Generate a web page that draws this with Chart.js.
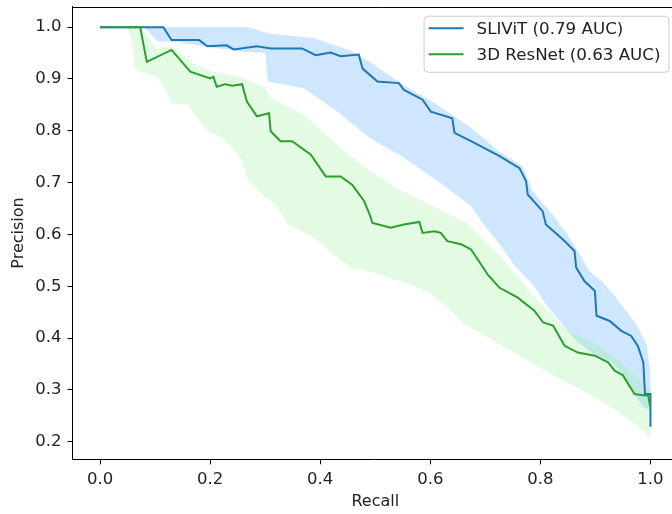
<!DOCTYPE html>
<html><head><meta charset="utf-8">
<script src="https://cdn.jsdelivr.net/npm/chart.js@4"></script>
<style>html,body{margin:0;padding:0;overflow:hidden;background:#fff}#wrap{width:690px;height:514px;position:relative}</style>
</head><body><div id="wrap"><canvas id="c" width="690" height="514"></canvas></div>
<script>
// ---- data ----
const seriesLabels = ['SLIViT (0.79 AUC)', '3D ResNet (0.63 AUC)'];
const xTicks = [0.0, 0.2, 0.4, 0.6, 0.8, 1.0];
const yTicks = [0.2, 0.3, 0.4, 0.5, 0.6, 0.7, 0.8, 0.9, 1.0];

const slivitRecall = [0, 0.115, 0.13, 0.18, 0.195, 0.23, 0.243, 0.285, 0.31, 0.367, 0.392, 0.419, 0.437, 0.47, 0.477, 0.504, 0.543, 0.552, 0.586, 0.601, 0.64, 0.644, 0.674, 0.726, 0.762, 0.774, 0.777, 0.804, 0.81, 0.841, 0.862, 0.865, 0.88, 0.899, 0.902, 0.926, 0.947, 0.965, 0.977, 0.987, 0.99, 1.0, 1.0];
const slivitPrecision = [1.0, 1.0, 0.975, 0.975, 0.963, 0.965, 0.957, 0.963, 0.959, 0.959, 0.946, 0.951, 0.944, 0.947, 0.92, 0.895, 0.892, 0.879, 0.86, 0.837, 0.824, 0.796, 0.78, 0.751, 0.728, 0.703, 0.677, 0.645, 0.619, 0.59, 0.568, 0.536, 0.51, 0.491, 0.443, 0.433, 0.414, 0.404, 0.385, 0.353, 0.292, 0.292, 0.229];

const slivitUpperRecall = [0.08, 0.27, 0.306, 0.388, 0.46, 0.49, 0.552, 0.613, 0.674, 0.725, 0.768, 0.786, 0.817, 0.847, 0.871, 0.889, 0.914, 0.932, 0.956, 0.974, 0.993, 1.0];
const slivitUpperPrecision = [1.0, 1.0, 0.988, 0.979, 0.953, 0.933, 0.888, 0.85, 0.806, 0.76, 0.731, 0.683, 0.645, 0.603, 0.562, 0.529, 0.507, 0.485, 0.452, 0.427, 0.388, 0.331];
const slivitLowerRecall = [0.08, 0.106, 0.137, 0.21, 0.258, 0.3, 0.305, 0.37, 0.431, 0.49, 0.552, 0.613, 0.674, 0.695, 0.726, 0.756, 0.786, 0.81, 0.835, 0.865, 0.896, 0.926, 0.956, 0.974, 0.987, 1.0];
const slivitLowerPrecision = [1.0, 0.972, 0.972, 0.96, 0.953, 0.95, 0.895, 0.882, 0.837, 0.786, 0.748, 0.703, 0.655, 0.622, 0.581, 0.536, 0.504, 0.465, 0.433, 0.395, 0.369, 0.356, 0.324, 0.286, 0.267, 0.26];

const resnetRecall = [0, 0.073, 0.085, 0.13, 0.164, 0.2, 0.206, 0.212, 0.228, 0.24, 0.258, 0.267, 0.285, 0.307, 0.31, 0.328, 0.349, 0.383, 0.41, 0.437, 0.458, 0.48, 0.49, 0.495, 0.528, 0.552, 0.58, 0.586, 0.607, 0.619, 0.631, 0.656, 0.674, 0.686, 0.704, 0.726, 0.759, 0.789, 0.805, 0.823, 0.844, 0.868, 0.899, 0.923, 0.935, 0.95, 0.971, 0.99, 0.996, 0.999, 1.0];
const resnetPrecision = [1.0, 1.0, 0.933, 0.956, 0.914, 0.901, 0.904, 0.885, 0.89, 0.887, 0.89, 0.856, 0.828, 0.834, 0.799, 0.78, 0.78, 0.754, 0.712, 0.712, 0.696, 0.664, 0.638, 0.622, 0.613, 0.619, 0.624, 0.603, 0.606, 0.603, 0.587, 0.581, 0.571, 0.552, 0.523, 0.497, 0.478, 0.453, 0.43, 0.424, 0.385, 0.372, 0.366, 0.353, 0.337, 0.328, 0.292, 0.289, 0.289, 0.27, 0.27];

const resnetUpperRecall = [0.05, 0.075, 0.1, 0.13, 0.17, 0.2, 0.25, 0.3, 0.31, 0.37, 0.43, 0.49, 0.55, 0.61, 0.67, 0.73, 0.79, 0.85, 0.9, 0.95, 1.0];
const resnetUpperPrecision = [1.0, 1.0, 0.96, 0.962, 0.93, 0.915, 0.905, 0.885, 0.863, 0.831, 0.773, 0.722, 0.683, 0.651, 0.619, 0.555, 0.478, 0.414, 0.39, 0.35, 0.3];
const resnetLowerRecall = [0.05, 0.055, 0.064, 0.073, 0.103, 0.118, 0.13, 0.161, 0.173, 0.197, 0.222, 0.246, 0.258, 0.27, 0.295, 0.319, 0.34, 0.389, 0.431, 0.455, 0.49, 0.522, 0.565, 0.601, 0.631, 0.662, 0.695, 0.756, 0.817, 0.877, 0.938, 0.987, 1.0];
const resnetLowerPrecision = [1.0, 0.985, 0.921, 0.914, 0.904, 0.882, 0.853, 0.85, 0.828, 0.799, 0.786, 0.76, 0.741, 0.703, 0.677, 0.658, 0.619, 0.594, 0.555, 0.536, 0.529, 0.517, 0.504, 0.485, 0.459, 0.427, 0.408, 0.369, 0.331, 0.299, 0.26, 0.222, 0.209];

// ---- styling ----
const blueLine = '#1f77b4';
const greenLine = '#2ca02c';
const blueBand = 'rgba(30,144,255,0.22)';
const greenBand = 'rgba(144,238,144,0.25)';
const FONT = "'DejaVu Sans', sans-serif";

const pts = (xs, ys) => xs.map((x, i) => ({x, y: ys[i]}));
const band = (ux, uy, lx, ly) => pts(ux, uy).concat(pts(lx, ly).reverse());

Chart.defaults.font.family = FONT;
Chart.defaults.font.size = 16;
Chart.defaults.color = '#222';

const framePlugin = {
  id: 'frame',
  afterDraw(chart) {
    const {ctx, chartArea} = chart;
    ctx.save();
    ctx.strokeStyle = '#000';
    ctx.lineWidth = 1;
    ctx.beginPath();
    const y = Math.round(chartArea.top) + 0.5;
    ctx.moveTo(chartArea.left, y);
    ctx.lineTo(chartArea.right + 20, y);
    ctx.stroke();
    ctx.restore();
  }
};

const legendPlugin = {
  id: 'mplLegend',
  afterDraw(chart) {
    const {ctx, chartArea} = chart;
    const items = [
      {label: chart.data.datasets[2].label, color: chart.data.datasets[2].borderColor},
      {label: chart.data.datasets[3].label, color: chart.data.datasets[3].borderColor}
    ];
    ctx.save();
    ctx.font = '16.7px ' + FONT;
    const tw = Math.max(...items.map(it => ctx.measureText(it.label).width));
    const w = 5 + 35 + 13 + tw + 8;
    const h = 56;
    const right = chartArea.right - 9.5;
    const left = right - w;
    const top = chartArea.top + 9;
    ctx.beginPath();
    ctx.roundRect(left + 0.5, top + 0.5, w, h, 4);
    ctx.fillStyle = 'rgba(255,255,255,0.8)';
    ctx.fill();
    ctx.strokeStyle = '#cccccc';
    ctx.lineWidth = 1;
    ctx.stroke();
    items.forEach((it, i) => {
      const yy = top + 12.5 + i * 26;
      ctx.beginPath();
      ctx.strokeStyle = it.color;
      ctx.lineWidth = 2;
      ctx.moveTo(left + 5, yy);
      ctx.lineTo(left + 40, yy);
      ctx.stroke();
      ctx.fillStyle = '#222';
      ctx.textBaseline = 'middle';
      ctx.textAlign = 'left';
      ctx.fillText(it.label, left + 53, yy + 1);
    });
    ctx.restore();
  }
};

new Chart(document.getElementById('c').getContext('2d'), {
  type: 'line',
  data: {
    datasets: [
      {label: 'SLIViT band', data: band(slivitUpperRecall, slivitUpperPrecision, slivitLowerRecall, slivitLowerPrecision),
       fill: 'shape', backgroundColor: blueBand, borderWidth: 0, pointRadius: 0, tension: 0, order: 4},
      {label: '3D ResNet band', data: band(resnetUpperRecall, resnetUpperPrecision, resnetLowerRecall, resnetLowerPrecision),
       fill: 'shape', backgroundColor: greenBand, borderWidth: 0, pointRadius: 0, tension: 0, order: 3},
      {label: seriesLabels[0], data: pts(slivitRecall, slivitPrecision), borderColor: blueLine, borderWidth: 2,
       pointRadius: 0, tension: 0, fill: false, order: 2},
      {label: seriesLabels[1], data: pts(resnetRecall, resnetPrecision), borderColor: greenLine, borderWidth: 2,
       pointRadius: 0, tension: 0, fill: false, order: 1}
    ]
  },
  options: {
    responsive: false,
    animation: false,
    devicePixelRatio: 1,
    layout: {padding: {top: 6.7, right: 12, left: 0, bottom: 0}},
    plugins: {legend: {display: false}, tooltip: {enabled: false}},
    scales: {
      x: {
        type: 'linear', position: 'bottom', min: -0.05, max: 1.05,
        afterBuildTicks: s => { s.ticks = xTicks.map(v => ({value: v})); },
        afterFit: s => { s.height = 54.7; s.paddingLeft = 0; s.paddingRight = 0; s.paddingTop = 0; s.paddingBottom = 0; },
        ticks: {callback: v => Number(v).toFixed(1), padding: 6, maxRotation: 0, autoSkip: false, color: '#222', font: {size: 16.5}},
        grid: {display: true, drawOnChartArea: false, drawTicks: true, tickLength: 5, color: '#000', tickColor: '#000', lineWidth: 1},
        border: {display: true, color: '#000', width: 1},
        title: {display: true, text: 'Recall', padding: {top: 3, bottom: 3}, color: '#222'}
      },
      y: {
        type: 'linear', position: 'left', min: 0.166, max: 1.0395,
        afterBuildTicks: s => { s.ticks = yTicks.map(v => ({value: v})); },
        afterFit: s => { s.width = 72.5; s.paddingLeft = 0; s.paddingRight = 0; s.paddingTop = 0; s.paddingBottom = 0; },
        ticks: {callback: v => Number(v).toFixed(1), padding: 6, autoSkip: false, color: '#222', font: {size: 16.5}},
        grid: {display: true, drawOnChartArea: false, drawTicks: true, tickLength: 5, color: '#000', tickColor: '#000', lineWidth: 1},
        border: {display: true, color: '#000', width: 1},
        title: {display: true, text: 'Precision', padding: {top: 9, bottom: 9}, color: '#222'}
      }
    }
  },
  plugins: [framePlugin, legendPlugin]
});
</script></body></html>
